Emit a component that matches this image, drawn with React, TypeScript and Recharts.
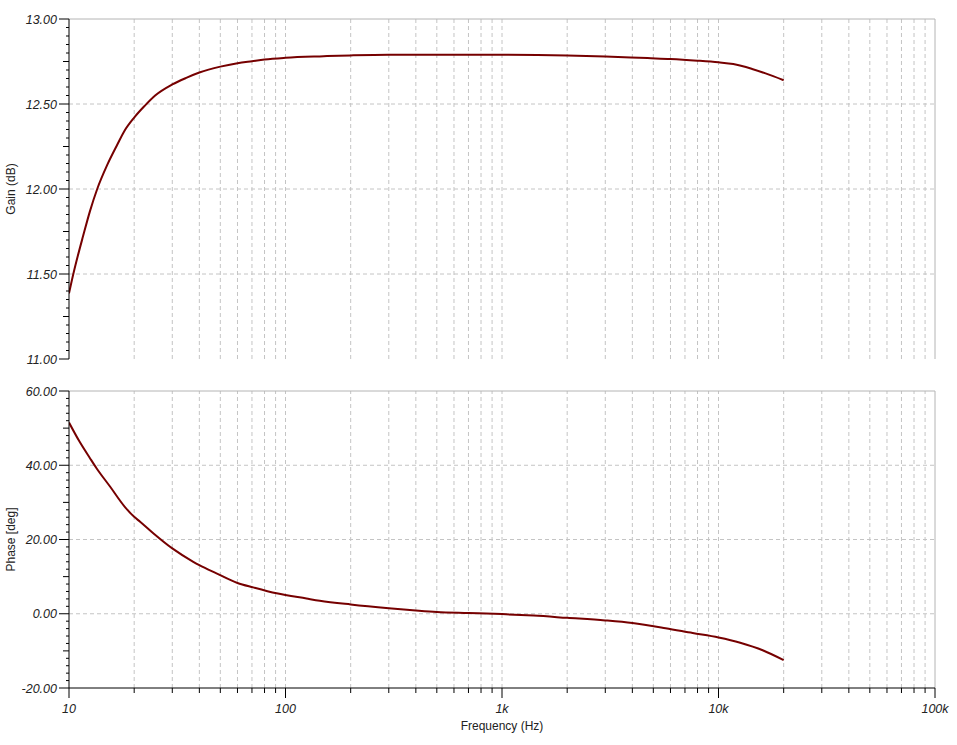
import { LineChart, Line, XAxis, YAxis, ReferenceLine } from 'recharts';

// gain curve
const gainFreq = [10, 10.47, 11, 11.6, 12.5, 13.5, 15, 16.7, 18, 20, 22.4, 25, 30, 35, 40, 50, 60, 70, 80, 100, 150, 200, 300, 500, 1000, 2000, 3000, 4700, 6000, 8000, 10000, 11700, 14300, 16500, 20000];
const gainDb = [11.386, 11.5, 11.61, 11.72, 11.87, 12.0, 12.14, 12.26, 12.34, 12.42, 12.49, 12.55, 12.615, 12.655, 12.685, 12.72, 12.74, 12.752, 12.762, 12.772, 12.781, 12.786, 12.79, 12.79, 12.79, 12.786, 12.78, 12.77, 12.765, 12.755, 12.745, 12.735, 12.706, 12.68, 12.64];

// phase curve
const phaseFreq = [10, 11.2, 12.5, 13.4, 15.5, 18.1, 20, 21.3, 24.5, 30, 37.5, 40, 48, 60, 71, 91, 125, 144, 200, 300, 400, 500, 700, 1000, 1400, 2000, 3000, 4000, 5700, 7600, 10000, 12600, 16100, 20000];
const phaseDeg = [51.5, 46.3, 41.9, 39.2, 34.2, 28.8, 26.1, 24.8, 21.7, 17.6, 14.0, 13.1, 10.9, 8.3, 7.1, 5.5, 4.1, 3.5, 2.5, 1.5, 0.9, 0.5, 0.2, -0.1, -0.5, -1.1, -1.8, -2.5, -3.9, -5.2, -6.4, -7.8, -9.9, -12.5];

const freqTicks = [
  10, 20, 30, 40, 50, 60, 70, 80, 90,
  100, 200, 300, 400, 500, 600, 700, 800, 900,
  1000, 2000, 3000, 4000, 5000, 6000, 7000, 8000, 9000,
  10000, 20000, 30000, 40000, 50000, 60000, 70000, 80000, 90000,
  100000,
];
const freqMajor = [10, 100, 1000, 10000, 100000];
const freqLabels = ['10', '100', '1k', '10k', '100k'];

const gainMajor = [11, 11.5, 12, 12.5, 13];
const gainLabels = ['11.00', '11.50', '12.00', '12.50', '13.00'];
const phaseMajor = [-20, 0, 20, 40, 60];
const phaseLabels = ['-20.00', '0.00', '20.00', '40.00', '60.00'];

const steps = (lo: number, hi: number, step: number) =>
  Array.from({ length: Math.round((hi - lo) / step) + 1 }, (_, i) => Math.round((lo + i * step) * 1000) / 1000);
const gainTicks = steps(11, 13, 0.05);
const phaseTicks = steps(-20, 60, 2);

const gainRows = gainFreq.map((f, i) => ({ f, v: gainDb[i] }));
const phaseRows = phaseFreq.map((f, i) => ({ f, v: phaseDeg[i] }));

const FONT = '"Liberation Sans", Arial, sans-serif';
const CURVE = '#760000';
const GRID = '#c4c4c4';

function makeYTick(majors: number[], labels: string[], midStep: number) {
  return (props: any) => {
    const { x, y, payload } = props;
    const v = payload.value;
    const mi = majors.indexOf(v);
    const isMid = mi < 0 && Math.abs(v / midStep - Math.round(v / midStep)) < 1e-6;
    const len = mi >= 0 ? 10 : isMid ? 6 : 3;
    return (
      <g>
        <line x1={x - len} x2={x} y1={y} y2={y} stroke="#000" />
        {mi >= 0 && (
          <text x={x - 12} y={y} dy="0.36em" textAnchor="end" fontSize={12.5} fontStyle="italic" fontFamily={FONT} fill="#222">
            {labels[mi]}
          </text>
        )}
      </g>
    );
  };
}

function FreqTick(props: any) {
  const { x, y, payload } = props;
  const mi = freqMajor.indexOf(payload.value);
  const len = mi >= 0 ? 10 : 5;
  return (
    <g>
      <line x1={x} x2={x} y1={y} y2={y + len} stroke="#000" />
      {mi >= 0 && (
        <text x={x} y={y + 25} textAnchor="middle" fontSize={12.5} fontStyle="italic" fontFamily={FONT} fill="#222">
          {freqLabels[mi]}
        </text>
      )}
    </g>
  );
}

const yTitle = (text: string) => (props: any) => {
  const vb = props.viewBox || { x: 0, y: 0, height: 0 };
  const cx = 11;
  const cy = vb.y + vb.height / 2;
  return (
    <text x={cx} y={cy} transform={`rotate(-90 ${cx} ${cy})`} textAnchor="middle" dominantBaseline="central" fontSize={12} fontFamily={FONT} fill="#222">
      {text}
    </text>
  );
};

const xTitle = (props: any) => {
  const vb = props.viewBox || { x: 0, y: 0, width: 0 };
  return (
    <text x={vb.x + vb.width / 2} y={vb.y + 38} textAnchor="middle" dominantBaseline="central" fontSize={12} fontFamily={FONT} fill="#222">
      Frequency (Hz)
    </text>
  );
};

function gridLines(majors: number[]) {
  const inner = majors.slice(1, -1);
  const top = majors[majors.length - 1];
  return [
    ...freqTicks.slice(1, -1).map(f => (
      <ReferenceLine key={'vx' + f} x={f} stroke={GRID} strokeDasharray="4 3" />
    )),
    ...inner.map(v => (
      <ReferenceLine key={'hy' + v} y={v} stroke={GRID} strokeDasharray="4 3" />
    )),
    <ReferenceLine key="top" y={top} stroke="#b4b4b4" />,
    <ReferenceLine key="right" x={100000} stroke="#b4b4b4" />,
  ];
}

export default function App() {
  return (
    <div style={{ position: 'absolute', left: 0, top: 0, width: 957, height: 745, background: '#fff' }}>
      <div style={{ position: 'absolute', left: 0, top: 0 }}>
        <LineChart width={957} height={375} data={gainRows} margin={{ top: 19, right: 22, bottom: 16, left: 0 }}>
          {gridLines(gainMajor)}
          <XAxis dataKey="f" type="number" scale="log" domain={[10, 100000]} ticks={freqTicks}
                 tick={false} tickLine={false} axisLine={{ stroke: '#000' }} height={0} allowDataOverflow />
          <YAxis type="number" domain={[11, 13]} ticks={gainTicks} interval={0} width={69}
                 tickSize={0} tickMargin={0} tickLine={false} axisLine={{ stroke: '#000' }}
                 tick={makeYTick(gainMajor, gainLabels, 0.25)} label={yTitle('Gain (dB)')} allowDataOverflow />
          <Line dataKey="v" type="monotone" stroke={CURVE} strokeWidth={2} dot={false} isAnimationActive={false} />
        </LineChart>
      </div>
      <div style={{ position: 'absolute', left: 0, top: 375 }}>
        <LineChart width={957} height={370} data={phaseRows} margin={{ top: 16, right: 22, bottom: 0, left: 0 }}>
          {gridLines(phaseMajor)}
          <XAxis dataKey="f" type="number" scale="log" domain={[10, 100000]} ticks={freqTicks} interval={0}
                 tickSize={0} tickMargin={0} tickLine={false} axisLine={{ stroke: '#000' }} height={57}
                 tick={FreqTick} label={xTitle} allowDataOverflow />
          <YAxis type="number" domain={[-20, 60]} ticks={phaseTicks} interval={0} width={69}
                 tickSize={0} tickMargin={0} tickLine={false} axisLine={{ stroke: '#000' }}
                 tick={makeYTick(phaseMajor, phaseLabels, 10)} label={yTitle('Phase [deg]')} allowDataOverflow />
          <Line dataKey="v" type="monotone" stroke={CURVE} strokeWidth={2} dot={false} isAnimationActive={false} />
        </LineChart>
      </div>
    </div>
  );
}
